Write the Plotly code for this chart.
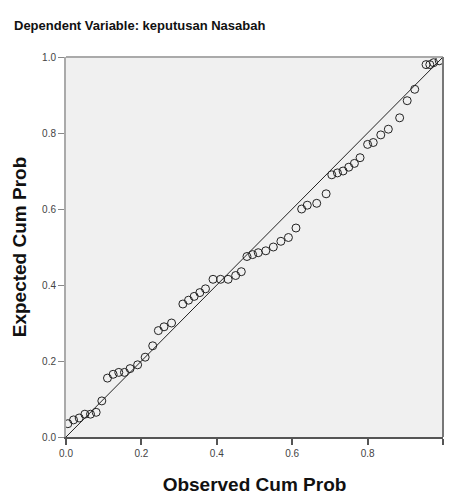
import plotly.graph_objects as go

observed = [0.005, 0.02, 0.035, 0.05, 0.065, 0.08, 0.095, 0.11, 0.125, 0.14, 0.155, 0.17,
            0.19, 0.21, 0.23, 0.245, 0.26, 0.28, 0.31, 0.325, 0.34, 0.355, 0.37, 0.39,
            0.41, 0.43, 0.45, 0.465, 0.48, 0.495, 0.51, 0.53, 0.55, 0.57, 0.59, 0.61,
            0.625, 0.64, 0.665, 0.69, 0.705, 0.72, 0.735, 0.75, 0.765, 0.78, 0.80, 0.815,
            0.835, 0.855, 0.885, 0.905, 0.925, 0.955, 0.965, 0.975, 0.99]
expected = [0.035, 0.045, 0.05, 0.06, 0.06, 0.065, 0.095, 0.155, 0.165, 0.17, 0.17, 0.18,
            0.19, 0.21, 0.24, 0.28, 0.29, 0.30, 0.35, 0.36, 0.37, 0.38, 0.39, 0.415,
            0.415, 0.415, 0.425, 0.435, 0.475, 0.48, 0.485, 0.49, 0.50, 0.515, 0.525, 0.55,
            0.60, 0.61, 0.615, 0.64, 0.69, 0.695, 0.70, 0.71, 0.72, 0.735, 0.77, 0.775,
            0.795, 0.81, 0.84, 0.885, 0.915, 0.98, 0.98, 0.985, 0.99]
diag = [0.0, 1.0]
tick_vals = [0.0, 0.2, 0.4, 0.6, 0.8, 1.0]
tick_text = ["0.0", "0.2", "0.4", "0.6", "0.8", "1.0"]

fig = go.Figure()
fig.add_trace(go.Scatter(x=diag, y=diag, mode="lines",
                         line=dict(color="#222222", width=1), hoverinfo="skip"))
fig.add_trace(go.Scatter(x=observed, y=expected, mode="markers",
                         marker=dict(symbol="circle-open", size=8, color="#222222",
                                     line=dict(width=1, color="#222222"))))

font_family = "Liberation Sans, Arial, sans-serif"
fig.update_layout(
    width=450, height=495,
    margin=dict(l=66, r=7, t=57, b=58),
    paper_bgcolor="white", plot_bgcolor="#f0f0f0",
    showlegend=False,
    font=dict(family=font_family, size=10, color="#444444"),
    title=dict(text="<b>Dependent Variable: keputusan Nasabah</b>",
               x=14 / 450, xref="container", xanchor="left",
               y=1 - 25 / 495, yref="container", yanchor="middle",
               font=dict(family=font_family, size=13, color="#111111")),
    xaxis=dict(range=[0, 1], tickvals=tick_vals, ticktext=tick_text, automargin=False,
               showgrid=False, zeroline=False, showline=True,
               linecolor="#555555", linewidth=2, ticks="outside", ticklen=6,
               tickcolor="#555555", tickwidth=2,
               title=dict(text="<b>Observed Cum Prob</b>", standoff=20,
                          font=dict(family=font_family, size=19, color="#111111"))),
    yaxis=dict(range=[0, 1], tickvals=tick_vals, ticktext=tick_text, automargin=False,
               showgrid=False, zeroline=False, showline=True,
               linecolor="#aaaaaa", linewidth=2, ticks="outside", ticklen=6,
               tickcolor="#888888", tickwidth=1,
               title=dict(text="<b>Expected Cum Prob</b>", standoff=10,
                          font=dict(family=font_family, size=19, color="#111111"))),
)
fig.add_shape(type="line", xref="x domain", yref="y domain", x0=0, x1=1, y0=1, y1=1,
              line=dict(color="#aaaaaa", width=2))
fig.add_shape(type="line", xref="x domain", yref="y domain", x0=1, x1=1, y0=0, y1=1,
              line=dict(color="#777777", width=2))

fig.write_html("out.html", config={"displayModeBar": False},
               post_script="document.body.style.margin='0';")
